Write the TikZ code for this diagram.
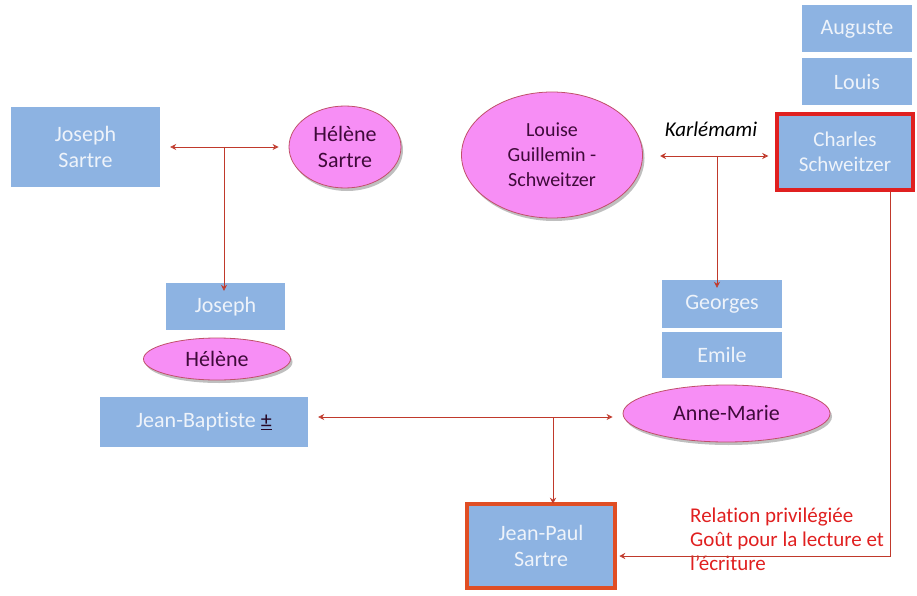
\documentclass[tikz,border=0pt]{standalone}
\usepackage{fontspec}
\setmainfont[Ligatures=NoCommon]{Carlito}
\usetikzlibrary{shapes.geometric,arrows.meta,shadows}
\definecolor{boxblue}{HTML}{8DB3E2}
\definecolor{boxtext}{HTML}{EEF3FA}
\definecolor{pinkfill}{HTML}{F78EF5}
\definecolor{pinkline}{HTML}{C0506A}
\definecolor{pinktext}{HTML}{3F0A3A}
\definecolor{arrowred}{HTML}{C0392B}
\definecolor{charlesred}{HTML}{E02020}
\definecolor{jpred}{HTML}{E04E24}
\tikzset{
  x=1pt,y=-1pt,
  person/.style={draw=none,fill=boxblue,text=boxtext,font=\fontsize{22}{26}\selectfont,align=center,inner sep=0pt},
  woman/.style={ellipse,draw=pinkline,line width=0.8pt,fill=pinkfill,text=pinktext,font=\fontsize{22}{26}\selectfont,align=center,inner sep=0pt,
    drop shadow={shadow xshift=2pt,shadow yshift=-3pt,opacity=0.25,fill=black}},
  link/.style={draw=arrowred,line width=0.9pt},
  twoway/.style={link,{Stealth[length=6pt,width=6pt,open]}-{Stealth[length=6pt,width=6pt,open]}},
  oneway/.style={link,-{Stealth[length=6pt,width=6pt,open]}},
}
\begin{document}
\begin{tikzpicture}
\useasboundingbox (0,0) rectangle (917,596);
% top row
\node[person,minimum width=149,minimum height=80] (jsartre) at (85.5,147) {Joseph\\Sartre};
\node[woman,minimum width=112,minimum height=82] (hsartre) at (345,147) {Hélène\\Sartre};
\node[woman,minimum width=181,minimum height=126,font=\fontsize{20}{25}\selectfont] (louise) at (552,155) {Louise\\Guillemin -\\Schweitzer};
\node[person,minimum width=110,minimum height=47] (auguste) at (857,29) {Auguste};
\node[person,minimum width=110,minimum height=47] (louis) at (857,82) {Louis};
\node[person,draw=charlesred,line width=3.5pt,minimum width=136,minimum height=76,font=\fontsize{21}{25}\selectfont] (charles) at (845,152) {Charles\\Schweitzer};
\node[font=\fontsize{21}{25}\selectfont\itshape] (karl) at (711,129) {Karlémami};
% middle left
\node[person,minimum width=119,minimum height=47] (joseph) at (225.5,306.5) {Joseph};
\node[woman,minimum width=147,minimum height=42] (helene) at (217,359) {Hélène};
\node[person,minimum width=208,minimum height=50] (jb) at (204,422) {Jean-Baptiste \textcolor{pinktext!60!black}{\underline{±}}};
% middle right
\node[person,minimum width=120,minimum height=48] (georges) at (722,304) {Georges};
\node[person,minimum width=120,minimum height=46] (emile) at (722,355) {Emile};
\node[woman,minimum width=207,minimum height=57] (annemarie) at (726.5,413.5) {Anne-Marie};
% bottom
\node[person,draw=jpred,line width=4.5pt,minimum width=148,minimum height=84] (jp) at (541,546) {Jean-Paul\\Sartre};
\node[text=charlesred,font=\fontsize{21}{24}\selectfont,align=left,anchor=north west,inner sep=0pt] (rel) at (690,508) {Relation privilégiée\\Goût pour la lecture et\\l'écriture};
% connectors
\coordinate (p1) at (224,147);
\coordinate (p2) at (717,156);
\coordinate (p3) at (553,417);
\coordinate (c1) at (890,556);
\draw[twoway] ([xshift=10]jsartre.east|-p1) -- ([xshift=-10]hsartre.west|-p1);
\draw[oneway] (p1) -- ([yshift=-8]joseph.north-|p1);
\draw[twoway] (660,156) coordinate (k1) -- ([xshift=-7]charles.west|-p2);
\draw[oneway] (p2) -- ([yshift=-8]georges.north-|p2);
\draw[twoway] ([xshift=10]jb.east|-p3) -- ([xshift=-10]annemarie.west|-p3);
\draw[oneway] (p3) -- ([yshift=-2]jp.north-|p3);
\draw[oneway] (charles.south-|c1) -- (c1) -- ([xshift=2]jp.east|-c1);
\end{tikzpicture}
\end{document}
